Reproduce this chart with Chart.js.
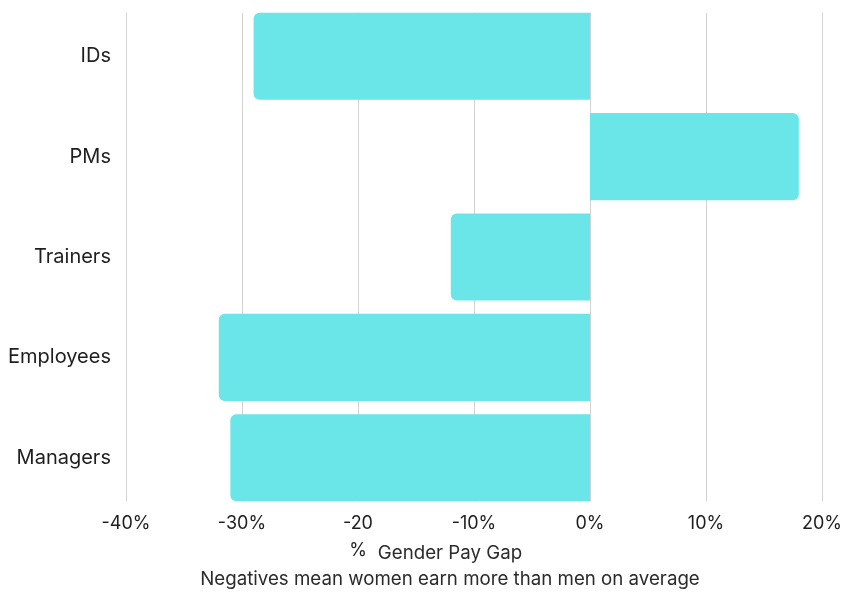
<!DOCTYPE html>
<html>
<head>
<meta charset="utf-8">
<script src="https://cdn.jsdelivr.net/npm/chart.js@4/dist/chart.umd.min.js"></script>
<style>
  html, body { margin: 0; padding: 0; background: #ffffff; }
  #wrap { width: 844px; height: 592px; }
</style>
</head>
<body>
<div id="wrap"><canvas id="chart" width="844" height="592"></canvas></div>
<script>
// Gender pay gap by staff group (percent)
const categories = ['IDs', 'PMs', 'Trainers', 'Employees', 'Managers'];
const payGap = [-29, 18, -12, -32, -31];

// Axis tick labels keyed by value
const tickValues = [-40, -30, -20, -10, 0, 10, 20];
const tickLabels = ['-40%', '-30%', ['-20', '%'], '-10%', '0%', '10%', '20%'];

const axisTitle = 'Gender Pay Gap';
const axisNote = 'Negatives mean women earn more than men on average';

const FONT = 'Inter, "Open Sans", sans-serif';

// Vertical grid lines that span only from the first bar's top to the last bar's bottom
const barGrid = {
  id: 'barGrid',
  beforeDatasetsDraw(chart) {
    const bars = chart.getDatasetMeta(0).data;
    if (!bars.length) return;
    const first = bars[0], last = bars[bars.length - 1];
    const top = first.y - first.height / 2;
    const bottom = last.y + last.height / 2;
    const x = chart.scales.x;
    const ctx = chart.ctx;
    ctx.save();
    ctx.strokeStyle = '#d2d2d2';
    ctx.lineWidth = 1;
    x.ticks.forEach(t => {
      const px = Math.round(x.getPixelForValue(t.value)) + 0.5;
      ctx.beginPath();
      ctx.moveTo(px, top);
      ctx.lineTo(px, bottom);
      ctx.stroke();
    });
    ctx.restore();
  }
};

// Axis caption and explanatory note under the chart
const captions = {
  id: 'captions',
  afterDraw(chart) {
    const ctx = chart.ctx;
    ctx.save();
    ctx.textAlign = 'center';
    ctx.textBaseline = 'middle';
    ctx.fillStyle = '#2b2b2b';
    ctx.font = '18.7px ' + FONT;
    ctx.fillText(axisTitle, 450, 553);
    ctx.fillText(axisNote, 450, 579);
    ctx.restore();
  }
};

new Chart(document.getElementById('chart'), {
  type: 'bar',
  data: {
    labels: categories,
    datasets: [{
      data: payGap,
      backgroundColor: '#6ae6e8',
      borderWidth: 0,
      borderRadius: 6,
      borderSkipped: 'start',
      categoryPercentage: 1,
      barPercentage: 0.868
    }]
  },
  options: {
    indexAxis: 'y',
    responsive: false,
    animation: false,
    layout: { padding: { top: 6, bottom: 34, left: 8, right: 22 } },
    plugins: {
      legend: { display: false },
      tooltip: { enabled: false }
    },
    scales: {
      x: {
        min: -40,
        max: 20,
        afterBuildTicks(scale) {
          scale.ticks = tickValues.map(v => ({ value: v }));
        },
        grid: { display: false },
        border: { display: false },
        ticks: {
          padding: -6,
          color: '#1e1e1e',
          font: { family: FONT, size: 18, lineHeight: 1.5 },
          maxRotation: 0,
          callback(value) {
            const i = tickValues.indexOf(value);
            return i >= 0 ? tickLabels[i] : '';
          }
        }
      },
      y: {
        // invisible tick marks give the gap between labels and plot
        grid: { display: true, drawOnChartArea: false, drawTicks: true, tickLength: 15, color: 'rgba(0,0,0,0)' },
        border: { display: false },
        ticks: {
          padding: 0,
          color: '#1e1e1e',
          font: { family: FONT, size: 20, lineHeight: 0.6 }
        }
      }
    }
  },
  plugins: [barGrid, captions]
});
</script>
</body>
</html>
